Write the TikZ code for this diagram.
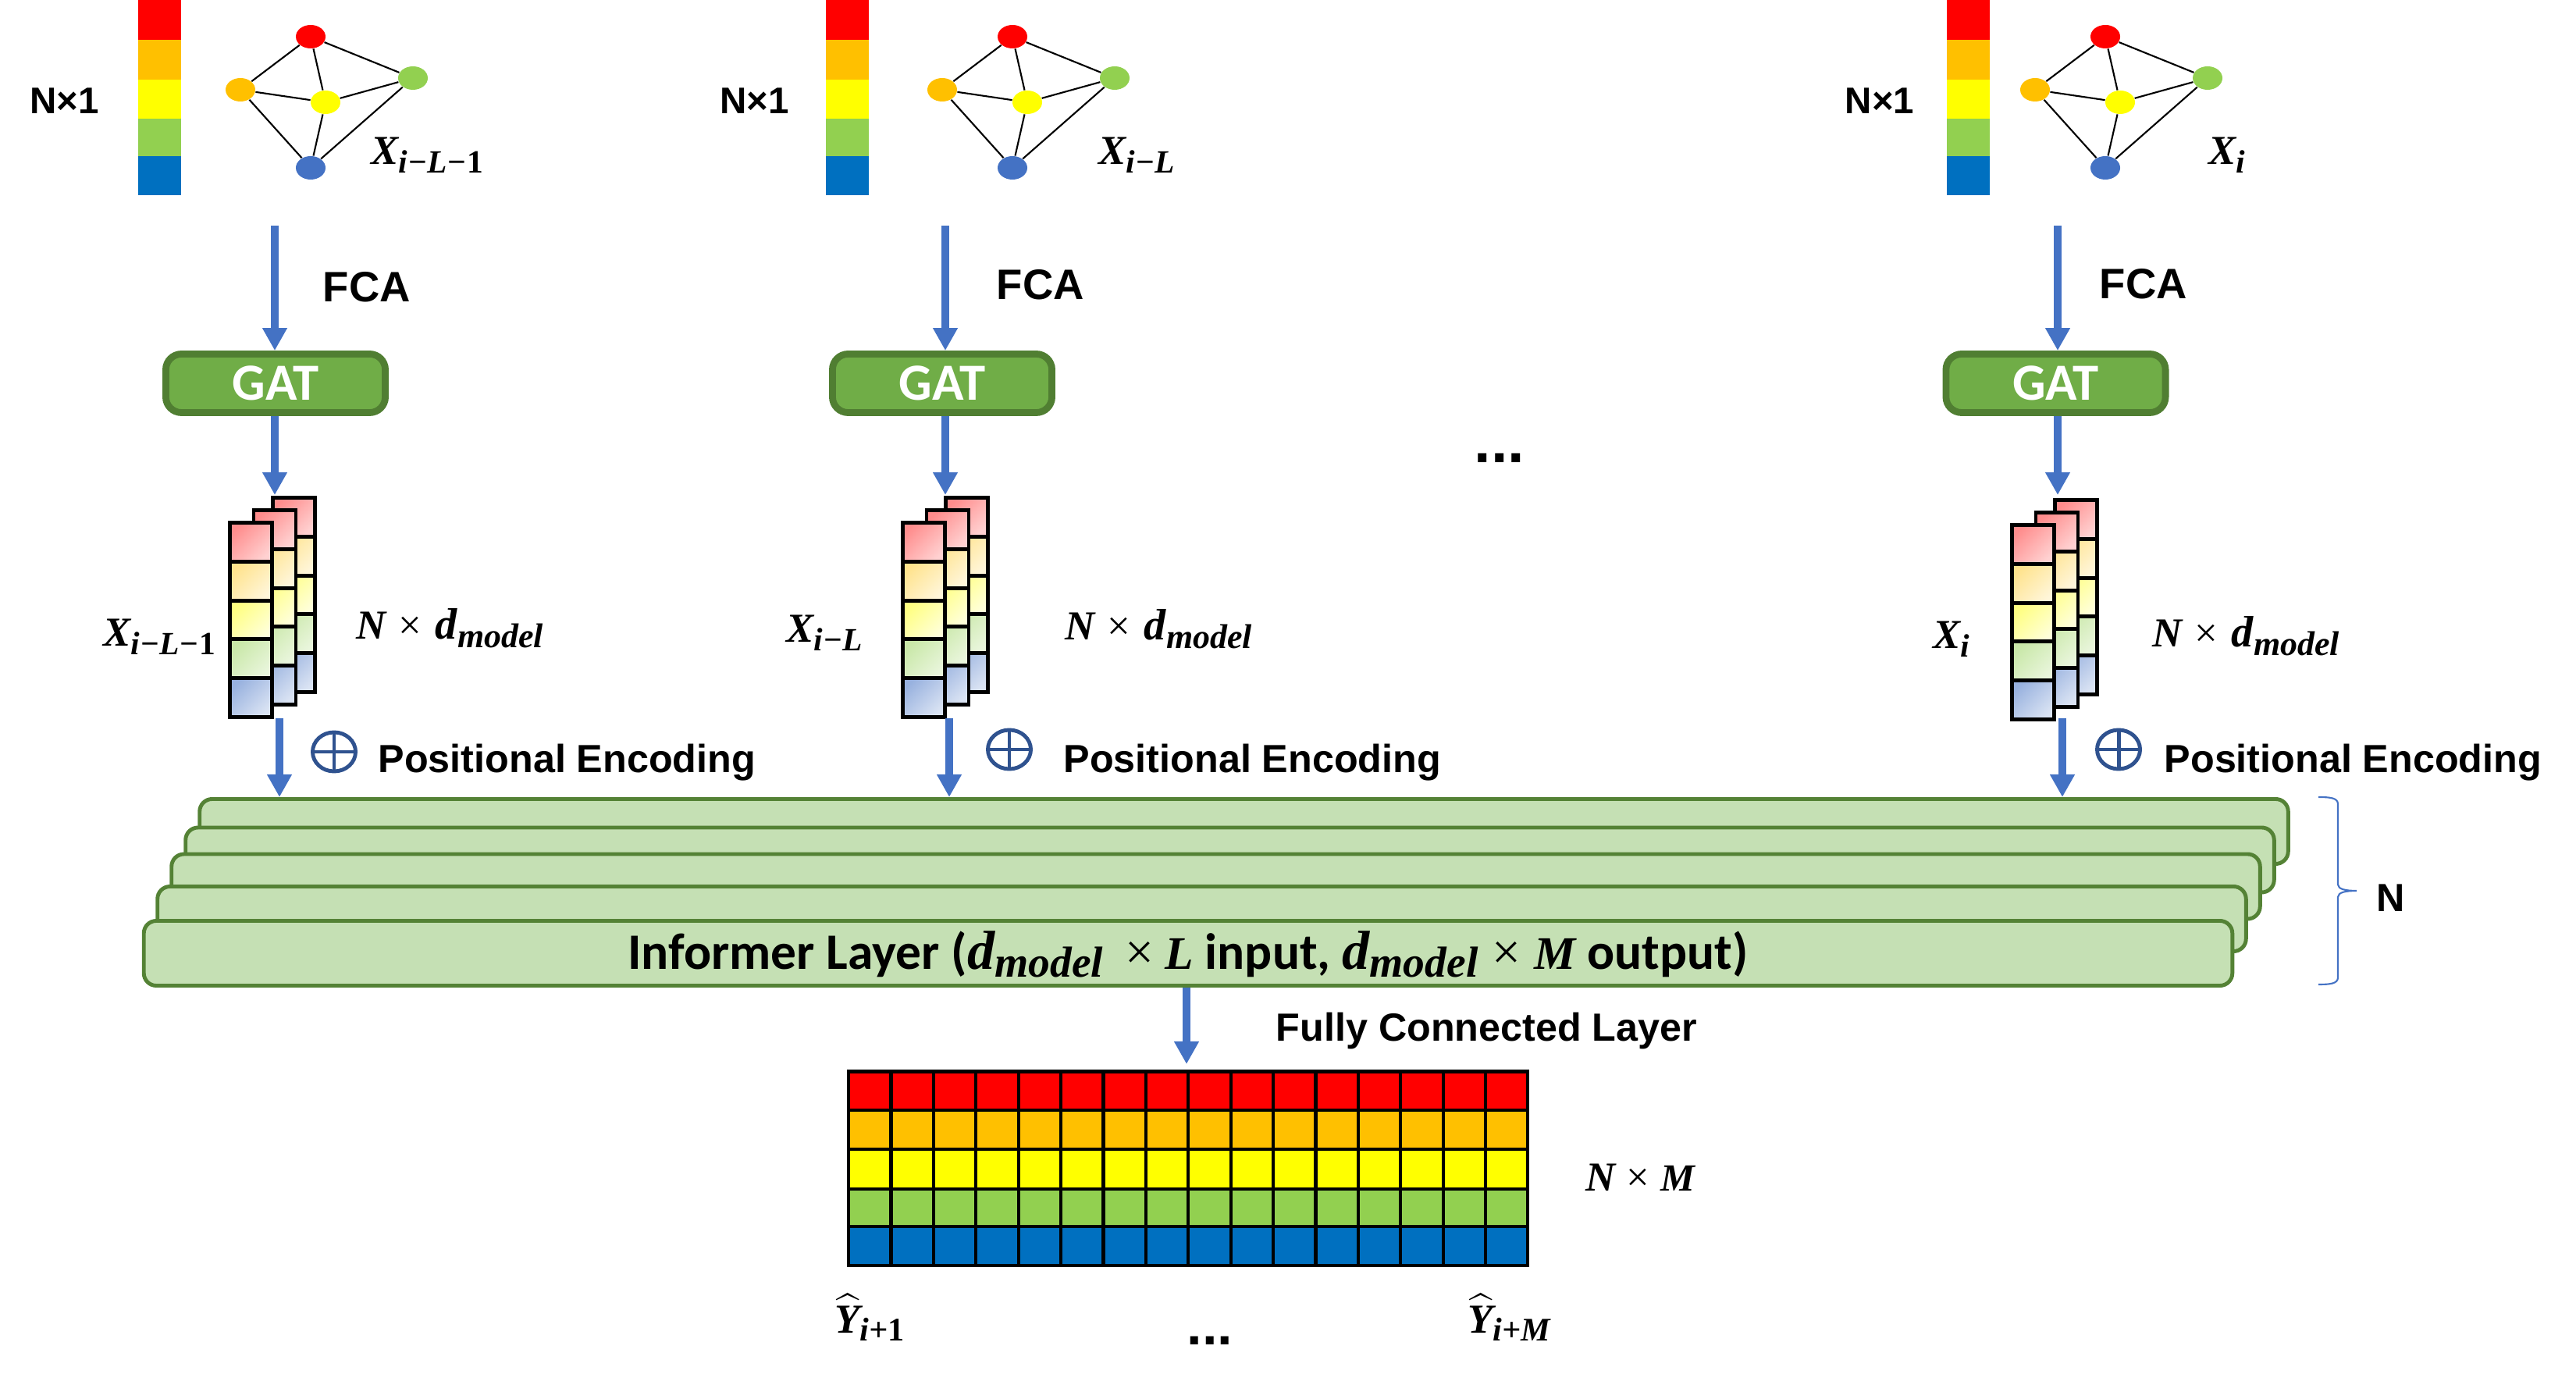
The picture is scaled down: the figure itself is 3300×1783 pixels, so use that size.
\documentclass[tikz,border=0pt]{standalone}
\usepackage{amsmath,amsfonts,amssymb}
\usepackage[no-math]{fontspec}
\setmainfont{Liberation Sans}
\newfontfamily\boxfont{Carlito}
\newfontfamily\serfont{Liberation Serif}
\usepackage{tikz}
\usetikzlibrary{shapes.geometric, arrows.meta}

\definecolor{barred}{HTML}{FF0000}
\definecolor{barorange}{HTML}{FFC000}
\definecolor{baryellow}{HTML}{FFFF00}
\definecolor{bargreen}{HTML}{92D050}
\definecolor{barblue}{HTML}{0070C0}
\definecolor{nodeblue}{HTML}{4472C4}
\definecolor{plusblue}{HTML}{2F528F}
\definecolor{gatfill}{HTML}{70AD47}
\definecolor{gatline}{HTML}{507E32}
\definecolor{layfill}{HTML}{C5E0B4}
\definecolor{layline}{HTML}{548235}

\tikzstyle{flowarrow} = [line width=2.85pt,nodeblue,-{Triangle[length=0.29cm,width=0.30cm]}]
\tikzstyle{gnode} = [ellipse, minimum width=0.38cm, minimum height=0.30cm, inner sep=0pt]
\tikzstyle{gedge} = [black, line width=0.6pt]
\tikzstyle{gatbox} = [draw=gatline, fill=gatfill, line width=2.5pt, rounded corners=0.2cm, minimum width=2.81cm, minimum height=0.75cm, text=white, font=\boxfont\fontsize{19}{21}\selectfont\bfseries, text height=12.2pt, text depth=0pt, inner sep=0pt]
\tikzstyle{laybox} = [draw=layline, fill=layfill, line width=1.4pt, rounded corners=0.16cm, minimum width=26.74cm, minimum height=0.83cm]
\tikzstyle{cellbox} = [draw=black, line width=1.4pt]
\tikzstyle{plusnode} = [ellipse, draw=plusblue, line width=1.4pt, minimum width=0.55cm, minimum height=0.50cm, inner sep=0pt]
\tikzstyle{sanstxt} = [anchor=base west, inner sep=0pt, font=\fontsize{14.3}{16}\selectfont\bfseries]
\tikzstyle{shorttxt} = [anchor=base west, inner sep=0pt, font=\fontsize{13.5}{16}\selectfont\bfseries]
\tikzstyle{bigtxt} = [anchor=base west, inner sep=0pt, font=\fontsize{15.5}{18}\selectfont\bfseries]
\tikzstyle{mathtxt} = [anchor=base west, inner sep=0pt, font=\serfont\fontsize{15}{18}\selectfont\bfseries\itshape]

% subscript set by hand
\newcommand{\subtxt}[2][11.8]{\raisebox{-3pt}{\fontsize{#1}{14}\selectfont #2}}
\newcommand{\timestxt}{\hspace{4.5pt}{\mdseries\upshape ×}\hspace{5pt}}
\newcommand{\ndmodel}{N\timestxt{\fontsize{16}{18}\selectfont d}\subtxt[12.5]{model}}
\newcommand{\yhat}{$\widehat{\hbox{\serfont\fontsize{15}{18}\selectfont\bfseries\itshape Y}}$}

% one color bar
\newcommand{\colorbar}[1]{
  \fill[barred] (#1,0) rectangle +(55,51);
  \fill[barorange] (#1,51) rectangle +(55,51);
  \fill[baryellow] (#1,102) rectangle +(55,50);
  \fill[bargreen] (#1,152) rectangle +(55,48);
  \fill[barblue] (#1,200) rectangle +(55,50);
}

% one small graph
\newcommand{\smallgraph}[2]{
  \begin{scope}[shift={(#2,0)}, name prefix=#1]
    \node[gnode, fill=barred] (R) at (398,47) {};
    \node[gnode, fill=barorange] (O) at (308,115) {};
    \node[gnode, fill=baryellow] (Y) at (417,131) {};
    \node[gnode, fill=bargreen] (G) at (529,100) {};
    \node[gnode, fill=nodeblue] (B) at (398,215) {};

    % Edges - black
    \draw[gedge] (R) -- (O);
    \draw[gedge] (R) -- (Y);
    \draw[gedge] (R) -- (G);
    \draw[gedge] (O) -- (Y);
    \draw[gedge] (O) -- (B);
    \draw[gedge] (Y) -- (G);
    \draw[gedge] (Y) -- (B);
    \draw[gedge] (G) -- (B);
  \end{scope}
}

% one layer of five cells, x and y of its top left corner
\newcommand{\celllayer}[2]{
  \path[cellbox, top color=red!45, bottom color=red!18, shading angle=45] (#1,#2) rectangle +(54,49.8);
  \path[cellbox, top color=barorange!45, bottom color=barorange!15, shading angle=45] (#1,#2+49.8) rectangle +(54,49.8);
  \path[cellbox, top color=baryellow!50, bottom color=baryellow!15, shading angle=45] (#1,#2+99.6) rectangle +(54,49.8);
  \path[cellbox, top color=bargreen!50, bottom color=bargreen!20, shading angle=45] (#1,#2+149.4) rectangle +(54,49.8);
  \path[cellbox, top color=nodeblue!55, bottom color=nodeblue!20, shading angle=45] (#1,#2+199.2) rectangle +(54,49.8);
}

% three layers, x and y of the front one
\newcommand{\cellstack}[2]{
  \celllayer{#1+57.5}{#2-29.5}
  \celllayer{#1+33}{#2-13.5}
  \celllayer{#1+2.5}{#2+2.5}
}

\begin{document}
\begin{tikzpicture}[x=0.01cm, y=-0.01cm]
  \useasboundingbox (0,0) rectangle (3300,1783);

  % Inputs
  \colorbar{177}
  \colorbar{1058}
  \colorbar{2494}
  \smallgraph{a}{0}
  \smallgraph{b}{899}
  \smallgraph{c}{2299}

  \node[shorttxt] (Na) at (38,146) {N×1};
  \node[shorttxt] (Nb) at (922,146) {N×1};
  \node[shorttxt] (Nc) at (2363,146) {N×1};
  \node[mathtxt] (Xa) at (475,211) {X\subtxt{i−L−{\upshape 1}}};
  \node[mathtxt] (Xb) at (1407,211) {X\subtxt{i−L}};
  \node[mathtxt] (Xc) at (2829,211) {X\subtxt{i}};

  \node[bigtxt] (FCAa) at (413,387) {FCA};
  \node[bigtxt] (FCAb) at (1276,384) {FCA};
  \node[bigtxt] (FCAc) at (2689,383) {FCA};

  % GAT boxes
  \node[gatbox] (GATa) at (353,491) {GAT};
  \node[gatbox] (GATb) at (1207,491) {GAT};
  \node[gatbox] (GATc) at (2633.5,491) {GAT};

  % Feature stacks
  \cellstack{292}{667}
  \cellstack{1154}{667}
  \cellstack{2575}{670}

  \node[mathtxt] (Fa) at (132,828) {X\subtxt{i−L−{\upshape 1}}};
  \node[mathtxt] (Fb) at (1007,823) {X\subtxt{i−L}};
  \node[mathtxt] (Fc) at (2476,831) {X\subtxt{i}};
  \node[mathtxt] (Da) at (456,819) {\ndmodel};
  \node[mathtxt] (Db) at (1364,820) {\ndmodel};
  \node[mathtxt] (Dc) at (2757,829) {\ndmodel};

  % Positional encoding
  \node[plusnode] (Pa) at (428,963) {};
  \node[plusnode] (Pb) at (1293,960) {};
  \node[plusnode] (Pc) at (2714,960) {};
  \foreach \p in {Pa,Pb,Pc}{
    \draw[plusblue, line width=1.4pt] (\p.north) -- (\p.south);
    \draw[plusblue, line width=1.4pt] (\p.west) -- (\p.east);
  }
  \node[sanstxt] (PEa) at (484,990) {Positional Encoding};
  \node[sanstxt] (PEb) at (1362,990) {Positional Encoding};
  \node[sanstxt] (PEc) at (2772,990) {Positional Encoding};

  % Informer layers
  \node[laybox] (Lay1) at (1593.5,1065) {};
  \node[laybox] (Lay2) at (1575.5,1101.5) {};
  \node[laybox] (Lay3) at (1557.5,1135.5) {};
  \node[laybox] (Lay4) at (1539.5,1177) {};
  \node[laybox, font=\boxfont\fontsize{18.6}{20}\selectfont\bfseries, text height=11.5pt, text depth=0pt] (Lay5) at (1522,1221) {Informer Layer ({\serfont\itshape{\fontsize{20}{22}\selectfont d}\subtxt[15.8]{model}\hspace{8pt}{\mdseries\upshape ×}\hspace{4pt}{\fontsize{17}{20}\selectfont L}} input, {\serfont\itshape{\fontsize{20}{22}\selectfont d}\subtxt[15.8]{model}\hspace{5pt}{\mdseries\upshape ×}\hspace{5pt}{\fontsize{17}{20}\selectfont M}} output)};

  \draw[nodeblue, line width=0.6pt] (2970,1021) .. controls (2985,1021) and (2995,1022) .. (2995,1030) -- (2995,1133) .. controls (2995,1139) and (3005,1141) .. (3019,1141) .. controls (3005,1141) and (2995,1143) .. (2995,1149) -- (2995,1252) .. controls (2995,1260) and (2985,1261) .. (2970,1261);
  \node[sanstxt] (Nn) at (3044,1168) {N};

  % Output grid
  \fill[barred] (1087,1372) rectangle (1957,1422);
  \fill[barorange] (1087,1422) rectangle (1957,1472);
  \fill[baryellow] (1087,1472) rectangle (1957,1523);
  \fill[bargreen] (1087,1523) rectangle (1957,1571);
  \fill[barblue] (1087,1571) rectangle (1957,1621);
  \foreach \i in {1,...,15}{
    \draw[black, line width=1.2pt] (1087+\i*54.4,1372) -- (1087+\i*54.4,1621);
  }
  \foreach \j in {1422,1472,1523,1571}{
    \draw[black, line width=1.3pt] (1087,\j) -- (1957,\j);
  }
  \draw[black, line width=1.4pt] (1087,1372.5) rectangle (1957,1621);

  \node[sanstxt] (FCL) at (1634,1333) {Fully Connected Layer};
  \node[mathtxt] (NM) at (2031,1525) {N\hspace{4pt}{\mdseries\upshape ×}\hspace{4pt}{\fontsize{14}{16}\selectfont M}};
  \node[mathtxt] (Ya) at (1069,1707) {\yhat\subtxt[12]{i+{\upshape 1}}};
  \node[mathtxt] (Yb) at (1880,1707) {\yhat\subtxt[12]{i+M}};
  \node[anchor=base west, inner sep=0pt, font=\fontsize{22}{24}\selectfont\bfseries] (Dots) at (1888,593) {...};
  \node[anchor=base west, inner sep=0pt, font=\fontsize{20}{24}\selectfont\bfseries] (Dotsb) at (1520,1722) {...};

  % Arrows
  \coordinate (Aa) at (352,289);
  \coordinate (Ab) at (1211,289);
  \coordinate (Ac) at (2636,289);
  \coordinate (Sa) at (352,634);
  \coordinate (Sb) at (1211,634);
  \coordinate (Sc) at (2636,634);
  \coordinate (Ta) at (358,920);
  \coordinate (Tb) at (1216,920);
  \coordinate (Tc) at (2642,920);
  \coordinate (Oo) at (1520,1363);

  \draw[flowarrow] (Aa) -- (Aa |- GATa.north);
  \draw[flowarrow] (Ab) -- (Ab |- GATb.north);
  \draw[flowarrow] (Ac) -- (Ac |- GATc.north);
  \draw[flowarrow] (Sa |- GATa.south) -- (Sa);
  \draw[flowarrow] (Sb |- GATb.south) -- (Sb);
  \draw[flowarrow] (Sc |- GATc.south) -- (Sc);
  \draw[flowarrow] (Ta) -- (Ta |- Lay1.north);
  \draw[flowarrow] (Tb) -- (Tb |- Lay1.north);
  \draw[flowarrow] (Tc) -- (Tc |- Lay1.north);
  \draw[flowarrow] (Oo |- Lay5.south) -- (Oo);
\end{tikzpicture}
\end{document}
